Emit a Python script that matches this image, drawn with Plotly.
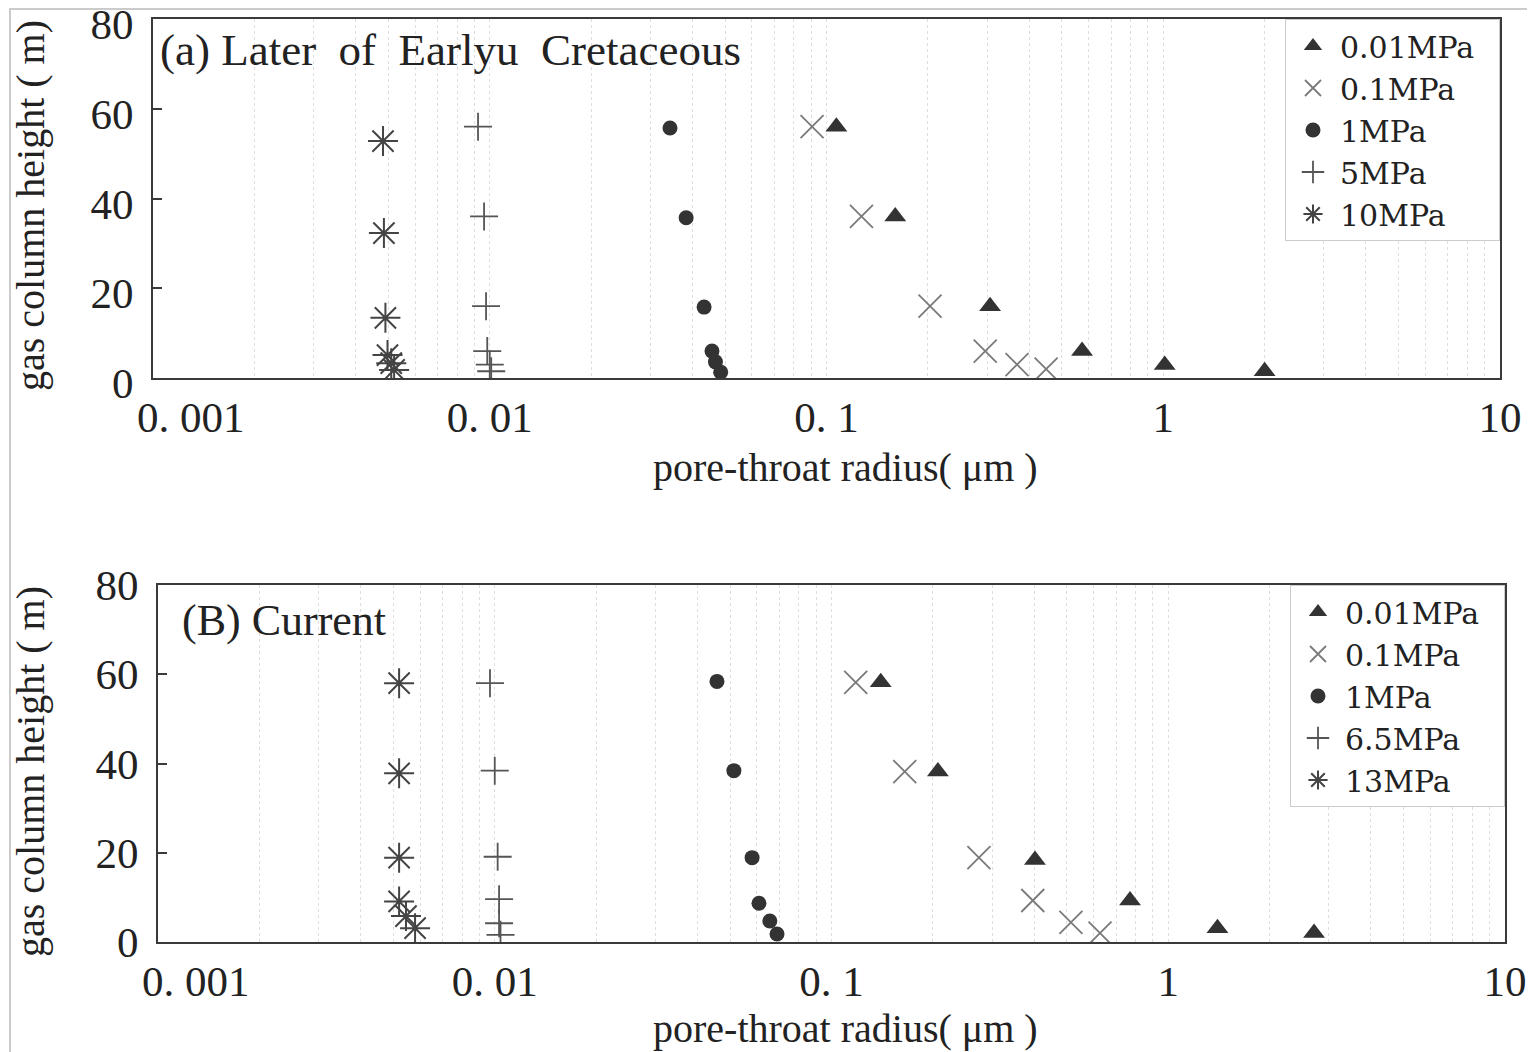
import plotly.graph_objects as go

# ---- Data (a) Later of Early Cretaceous ----
a_names = ["0.01MPa", "0.1MPa", "1MPa", "5MPa", "10MPa"]
a_tri_x = [0.107, 0.160, 0.306, 0.574, 1.01, 2.00]
a_tri_y = [56, 36, 16, 6, 2.9, 1.5]
a_x_x = [0.0906, 0.127, 0.203, 0.296, 0.368, 0.449]
a_x_y = [56, 36, 16, 6, 3, 2]
a_cir_x = [0.0343, 0.0383, 0.0433, 0.0457, 0.0468, 0.0485]
a_cir_y = [55.7, 35.7, 15.8, 6, 3.6, 1.3]
a_plus_x = [0.00923, 0.00962, 0.00975, 0.00983, 0.0100, 0.0101]
a_plus_y = [56, 36, 16, 6, 3, 1.5]
a_ast_x = [0.00482, 0.00485, 0.00490, 0.00497, 0.00510, 0.00520]
a_ast_y = [52.8, 32.3, 13.4, 5.1, 3.3, 1.8]

# ---- Data (B) Current ----
b_names = ["0.01MPa", "0.1MPa", "1MPa", "6.5MPa", "13MPa"]
b_tri_x = [0.140, 0.207, 0.402, 0.770, 1.40, 2.71]
b_tri_y = [58.2, 38.2, 18.4, 9.3, 3.1, 2.0]
b_x_x = [0.118, 0.165, 0.274, 0.396, 0.514, 0.627]
b_x_y = [58.2, 38.2, 18.9, 9.3, 4.4, 2.0]
b_cir_x = [0.0457, 0.0513, 0.0581, 0.0609, 0.0656, 0.0689]
b_cir_y = [58.4, 38.4, 18.9, 8.7, 4.7, 1.8]
b_plus_x = [0.00968, 0.0100, 0.0102, 0.0103, 0.0103, 0.0104]
b_plus_y = [58, 38.4, 19.1, 9.6, 4.2, 1.6]
b_ast_x = [0.0052, 0.0052, 0.0052, 0.0052, 0.00545, 0.0058]
b_ast_y = [58, 37.8, 18.9, 9.1, 5.8, 3.1]

NB = "\u00a0"
x_tick_labels = [NB * 7 + "0. 001", "0. 01", "0. 1", "1", "10"]
y_ticks = [0, 20, 40, 60, 80]

FONT = "Liberation Serif"
TXT = "#222222"

styles = [
    dict(symbol="triangle-up", size=19, color="#333333", line=dict(width=0)),
    dict(symbol="x-thin-open", size=23, color="#7a7a7a", line=dict(width=1.8, color="#7a7a7a")),
    dict(symbol="circle", size=15, color="#333333", line=dict(width=0)),
    dict(symbol="cross-thin-open", size=20, color="#555555", line=dict(width=1.8, color="#555555")),
    dict(symbol="asterisk-open", size=25, color="#444444", line=dict(width=2, color="#444444")),
]

fig = go.Figure()

a_sets = [(a_tri_x, a_tri_y), (a_x_x, a_x_y), (a_cir_x, a_cir_y), (a_plus_x, a_plus_y), (a_ast_x, a_ast_y)]
b_sets = [(b_tri_x, b_tri_y), (b_x_x, b_x_y), (b_cir_x, b_cir_y), (b_plus_x, b_plus_y), (b_ast_x, b_ast_y)]

PADR = NB * 2
for name, (xs, ys), st in zip(a_names, a_sets, styles):
    fig.add_trace(go.Scatter(x=xs, y=ys, mode="markers", name=name + PADR, marker=st,
                             xaxis="x", yaxis="y", legend="legend"))
for name, (xs, ys), st in zip(b_names, b_sets, styles):
    fig.add_trace(go.Scatter(x=xs, y=ys, mode="markers", name=name + PADR, marker=st,
                             xaxis="x2", yaxis="y2", legend="legend2"))

# grid positions (1..9 x decade) with labels only at decades
grid_vals, grid_text = [], []
dec_labels = dict(zip([0.001, 0.01, 0.1, 1, 10], x_tick_labels))
for d in [0.001, 0.01, 0.1, 1]:
    for k in range(1, 10):
        v = round(k * d, 6)
        grid_vals.append(v)
        grid_text.append(dec_labels.get(v, ""))
grid_vals.append(10)
grid_text.append(dec_labels[10])

# page body has an 8px margin; figure fills the remaining view
OFF = 8
W, H = 1535 - OFF, 1052 - OFF

def px(x):
    return (x - OFF) / W

def py(y):
    return 1 - (y - OFF) / H

def xaxis_cfg(dom):
    return dict(type="log", range=[-3, 1], domain=dom, tickvals=grid_vals, ticktext=grid_text,
                showgrid=True, gridcolor="#dedede", griddash="dot", gridwidth=1.2,
                ticks="", showline=True, linecolor="#3a3a3a", linewidth=2, mirror=True,
                automargin=False, ticklabelstandoff=0, ticklabeloverflow="allow",
                tickfont=dict(family=FONT, size=43, color=TXT), zeroline=False)

def yaxis_cfg(dom, anchor):
    return dict(range=[0, 80], domain=dom, tickvals=y_ticks, ticks="inside", ticklen=9,
                tickwidth=2, tickcolor="#3a3a3a", showgrid=False, showline=True,
                linecolor="#3a3a3a", linewidth=2, mirror=True, anchor=anchor, zeroline=False,
                automargin=False, ticklabelstandoff=9, ticklabeloverflow="allow",
                tickfont=dict(family=FONT, size=43, color=TXT))

top_x = [px(153), px(1500)]
bot_x = [px(158), px(1505)]
top_y = [py(378), py(19)]
bot_y = [py(942), py(585)]

legend_common = dict(bgcolor="white", bordercolor="#cccccc", borderwidth=1,
                     font=dict(family="DejaVu Serif", size=30, color=TXT),
                     xanchor="right", yanchor="top", tracegroupgap=0, itemwidth=44)

top_yaxis = yaxis_cfg(top_y, "x")
top_yaxis["ticklabelshift"] = 5

fig.update_layout(
    width=W, height=H,
    margin=dict(l=0, r=0, t=0, b=0, autoexpand=False),
    paper_bgcolor="white", plot_bgcolor="white",
    xaxis=dict(**xaxis_cfg(top_x), anchor="y"),
    yaxis=top_yaxis,
    xaxis2=dict(**xaxis_cfg(bot_x), anchor="y2"),
    yaxis2=yaxis_cfg(bot_y, "x2"),
    legend=dict(x=px(1500), y=py(19), **legend_common),
    legend2=dict(x=px(1505), y=py(585), **legend_common),
    font=dict(family=FONT, color=TXT),
)

S2 = NB * 2
ann = [
    dict(text=f"(a){NB}Later{S2}of{S2}Earlyu{S2}Cretaceous", x=px(158), y=py(50),
         xanchor="left", yanchor="middle", font=dict(size=45)),
    dict(text=f"(B){NB}Current", x=px(180), y=py(620), xanchor="left", yanchor="middle",
         font=dict(size=44)),
    dict(text="pore-throat radius( μm )", x=px(845), y=py(468), xanchor="center", yanchor="middle",
         font=dict(size=40)),
    dict(text="pore-throat radius( μm )", x=px(845), y=py(1028), xanchor="center", yanchor="middle",
         font=dict(size=40)),
    dict(text="gas column height ( m)", x=px(30), y=py(206), xanchor="center", yanchor="middle",
         textangle=-90, font=dict(size=40)),
    dict(text="gas column height ( m)", x=px(30), y=py(772), xanchor="center", yanchor="middle",
         textangle=-90, font=dict(size=40)),
]
for a in ann:
    a.update(xref="paper", yref="paper", showarrow=False)
    a["font"].update(family=FONT, color=TXT)
fig.update_layout(annotations=ann)

# outer frame around whole figure
fig.add_shape(type="rect", xref="paper", yref="paper", x0=px(10), x1=1.02, y0=-0.02, y1=py(9),
              line=dict(color="#bbbbbb", width=1.5), fillcolor="rgba(0,0,0,0)", layer="below")

fig.write_html("out.html")
